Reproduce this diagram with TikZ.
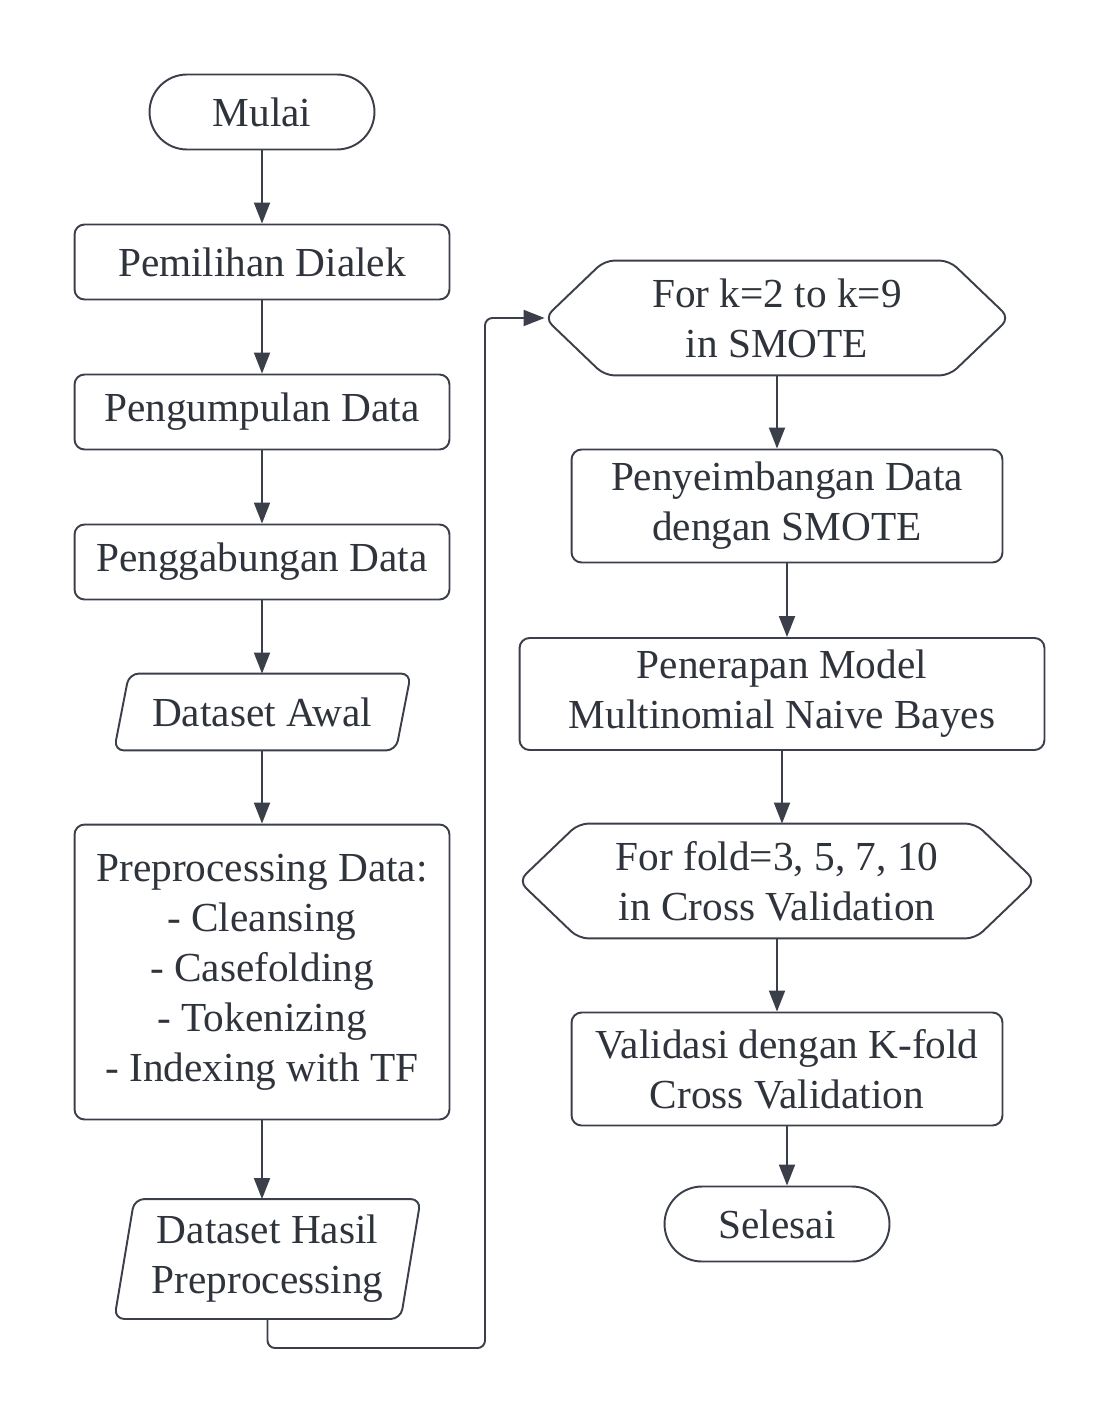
\documentclass[tikz,border=0pt]{standalone}
\usepackage{fontspec}
\setmainfont{Liberation Serif}
\usetikzlibrary{arrows.meta}
\definecolor{lineC}{HTML}{3A3F4A}
\definecolor{textC}{HTML}{2F333B}
\begin{document}
\begin{tikzpicture}[x=0.02cm, y=-0.02cm,
    line width=1.1pt, draw=lineC,
    every node/.style={text=textC, font=\fontsize{23.5}{28.5}\selectfont, align=center, inner sep=0pt},
    box/.style={draw, rounded corners=0.2cm},
    term/.style={draw, rounded corners=0.75cm},
    plain/.style={},
    arr/.style={-{Triangle[length=0.42cm,width=0.32cm]}, lineC}]
  \useasboundingbox (0,0) rectangle (1119,1425);

  % Left column
  \node[term, minimum width=4.5cm, minimum height=1.5cm] (start) at (262,112) {Mulai};
  \node[box, minimum width=7.5cm, minimum height=1.5cm] (dialek) at (262,262) {Pemilihan Dialek};
  \node[box, minimum width=7.5cm, minimum height=1.5cm] (collect) at (262,412) {Pengumpulan Data};
  \node[box, minimum width=7.5cm, minimum height=1.5cm] (merge) at (262,562) {Penggabungan Data};
  \node[plain, minimum width=5.6cm, minimum height=1.5cm] (rawset) at (262,712) {Dataset Awal};
  \node[box, minimum width=7.5cm, minimum height=5.9cm] (prep) at (262,972)
    {Preprocessing Data:\\- Cleansing\\- Casefolding\\- Tokenizing\\- Indexing with TF};
  \node[plain, minimum width=5.85cm, minimum height=2.36cm] (prepset) at (267.5,1259)
    {Dataset Hasil\\Preprocessing};

  % Parallelograms
  \draw[rounded corners=0.2cm] ([xshift=0.16cm]rawset.north west) -- ([xshift=0.16cm]rawset.north east)
    -- ([xshift=-0.14cm]rawset.south east) -- ([xshift=-0.14cm]rawset.south west) -- cycle;
  \draw[rounded corners=0.2cm] ([xshift=0.28cm]prepset.north west) -- ([xshift=0.12cm]prepset.north east)
    -- ([xshift=-0.28cm]prepset.south east) -- ([xshift=-0.12cm]prepset.south west) -- cycle;

  % Right column
  \node[plain, minimum width=9.26cm, minimum height=2.26cm] (hexk) at (777,318) {For k=2 to k=9\\in SMOTE};
  \node[box, minimum width=8.62cm, minimum height=2.26cm] (smote) at (787,506) {Penyeimbangan Data\\dengan SMOTE};
  \node[box, minimum width=10.5cm, minimum height=2.24cm] (model) at (782,694) {Penerapan Model\\Multinomial Naive Bayes};
  \node[plain, minimum width=10.3cm, minimum height=2.26cm] (fold) at (777,881) {For fold=3, 5, 7, 10\\in Cross Validation};
  \node[box, minimum width=8.62cm, minimum height=2.26cm] (valid) at (787,1069) {Validasi dengan K-fold\\Cross Validation};
  \node[term, minimum width=4.5cm, minimum height=1.5cm] (stop) at (777,1224) {Selesai};

  % Hexagons
  \foreach \h in {hexk,fold}{
    \draw[rounded corners=0.2cm] (\h.west) -- ([xshift=1.2cm]\h.north west) -- ([xshift=-1.2cm]\h.north east)
      -- (\h.east) -- ([xshift=-1.2cm]\h.south east) -- ([xshift=1.2cm]\h.south west) -- cycle;
  }

  % Connectors
  \draw[arr] (start) -- (dialek);
  \draw[arr] (dialek) -- (collect);
  \draw[arr] (collect) -- (merge);
  \draw[arr] (merge) -- (rawset);
  \draw[arr] (rawset) -- (prep);
  \draw[arr] (prep.south) -- (prep.south |- prepset.north);
  \coordinate (loopA) at (485,1348);
  \draw[arr, rounded corners=0.15cm] (prepset.south) -- (prepset.south |- loopA) -- (loopA) |- (hexk.west);
  \draw[arr] (hexk.south) -- (hexk.south |- smote.north);
  \draw[arr] (smote.south) -- (smote.south |- model.north);
  \draw[arr] (model.south) -- (model.south |- fold.north);
  \draw[arr] (fold.south) -- (fold.south |- valid.north);
  \draw[arr] (valid.south) -- (valid.south |- stop.north);
\end{tikzpicture}
\end{document}
